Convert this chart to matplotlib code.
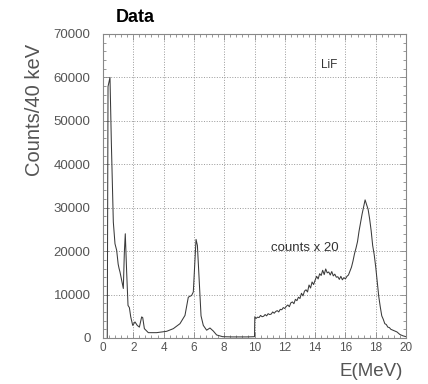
import matplotlib.pyplot as plt
from matplotlib.ticker import MultipleLocator

plt.rcParams['font.family'] = ['Liberation Sans', 'DejaVu Sans']

# low energy part, raw counts
e_low = [0.28, 0.33, 0.46, 0.55, 0.68, 0.79, 0.9, 1.0, 1.06, 1.12, 1.23, 1.34, 1.41, 1.47,
         1.56, 1.65, 1.74, 1.83, 1.96, 2.11, 2.26, 2.4, 2.55, 2.62, 2.73, 2.99, 3.54, 4.2,
         4.64, 5.08, 5.41, 5.63, 5.85, 5.96, 6.07, 6.14, 6.23, 6.34, 6.47, 6.62, 6.84, 7.06,
         7.28, 7.5, 7.9, 8.5, 9.0, 9.5, 10.0]
c_low = [0, 57900, 60000, 45000, 26700, 21700, 20200, 17000, 16000, 15200, 13300, 11400, 19900, 24000,
         15200, 7500, 7000, 4850, 2900, 3700, 2900, 2500, 4850, 4700, 2150, 1230, 1230, 1540,
         2150, 3300, 5200, 9400, 9800, 10600, 18300, 22700, 21300, 13700, 5100, 2900, 1800, 2300,
         1600, 700, 300, 250, 250, 250, 300]

# high energy part, counts x 20
e_high = [10.02, 10.1, 10.2, 10.3, 10.4, 10.5, 10.6, 10.7, 10.8, 10.9, 11.0, 11.1, 11.2, 11.3,
          11.4, 11.5, 11.6, 11.7, 11.8, 11.9, 12.0, 12.1, 12.2, 12.3, 12.4, 12.5, 12.6, 12.7,
          12.8, 12.9, 13.0, 13.1, 13.2, 13.3, 13.4, 13.5, 13.6, 13.7, 13.8, 13.9, 14.0, 14.1,
          14.2, 14.3, 14.4, 14.5, 14.6, 14.7, 14.8, 14.9, 15.0, 15.1, 15.2, 15.3, 15.4, 15.5,
          15.6, 15.7, 15.8, 15.9, 16.0, 16.1, 16.2, 16.3, 16.4, 16.5, 16.6, 16.7, 16.8, 16.9,
          17.0, 17.1, 17.2, 17.3, 17.4, 17.5, 17.6, 17.7, 17.8, 17.9, 18.0, 18.1, 18.2, 18.3,
          18.4, 18.5, 18.6, 18.7, 18.8, 18.9, 19.0, 19.2, 19.4, 19.6, 19.8, 20.0]
c_high = [4900, 4500, 4800, 4700, 5200, 4900, 5000, 5400, 5100, 5600, 5400, 5500, 6000, 5700,
          6100, 6300, 6000, 6600, 6500, 7000, 6800, 7300, 7600, 7200, 8100, 8300, 7900, 8900,
          8600, 9400, 9100, 10300, 9700, 10800, 11100, 10600, 12200, 11500, 12900, 12300, 13300, 14200,
          13600, 14800, 14400, 15600, 14600, 15900, 15000, 15200, 14500, 15300, 14300, 14700, 14000, 14100,
          13500, 14200, 13400, 13900, 13600, 14200, 14500, 15400, 16300, 17700, 19400, 20700, 22200, 24600,
          26600, 28500, 30100, 31800, 30700, 29600, 27400, 24700, 21300, 19200, 16400, 13100, 9600, 7200,
          5100, 4300, 3300, 3100, 2500, 2400, 2000, 1700, 1400, 800, 500, 300]

fig = plt.figure(figsize=(4.28, 3.84), dpi=100)
ax = fig.add_axes([0.2407, 0.1198, 0.7079, 0.7917])

ax.plot(e_low + e_high, c_low + c_high, color='#3a3a3a', lw=0.75)

ax.set_xlim(0, 20)
ax.set_ylim(0, 70000)
ax.xaxis.set_major_locator(MultipleLocator(2))
ax.xaxis.set_minor_locator(MultipleLocator(0.4))
ax.yaxis.set_major_locator(MultipleLocator(10000))
ax.yaxis.set_minor_locator(MultipleLocator(2000))
ax.tick_params(which='both', direction='in', top=True, right=True, color='#888888')
ax.tick_params(which='major', length=4, width=0.6)
ax.tick_params(which='minor', length=2.5, width=0.6)
ax.tick_params(axis='x', labelsize=8.5, pad=3, labelcolor='#555555')
ax.tick_params(axis='y', labelsize=9.5, pad=9, labelcolor='#555555')
ax.grid(True, which='major', color='#999999', linestyle=':', linewidth=0.7)
for s in ax.spines.values():
    s.set_color('#888888')
    s.set_linewidth(0.8)

ax.text(14.37, 62900, 'LiF', fontsize=8.5, color='#333333', va='center')
ax.text(11.07, 20700, 'counts x 20', fontsize=9.5, color='#333333', va='center')

fig.text(135 / 428, 1 - 17 / 384, 'Data', fontsize=13, fontweight='bold', ha='center', va='center')
fig.text(34 / 428, 1 - 110 / 384, 'Counts/40 keV', fontsize=14.5, rotation=90,
         ha='center', va='center', color='#555555')
fig.text(403 / 428, 1 - 371 / 384, 'E(MeV)', fontsize=13.5, ha='right', va='center', color='#555555')

fig.savefig('out.png', dpi=100)
